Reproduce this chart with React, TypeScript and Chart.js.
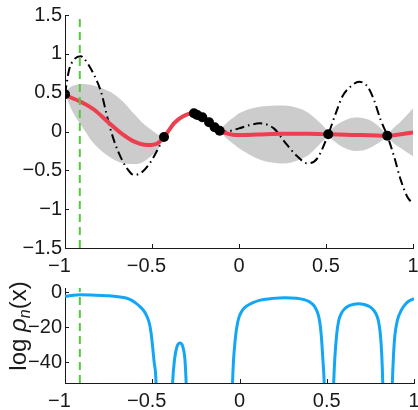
import React, { useEffect, useRef } from 'react';
import { Chart, registerables } from 'chart.js';

Chart.register(...registerables);

// ---------- data ----------
const xTicks = [-1, -0.5, 0, 0.5, 1];
const topYTicks = [-1.5, -1, -0.5, 0, 0.5, 1, 1.5];
const bottomYTicks = [-40, -20, 0];
const cursorX = -0.915;

const bandX = [
  -1, -0.99, -0.966, -0.94, -0.908, -0.88, -0.851, -0.81, -0.774, -0.735, -0.697, -0.66, -0.621, -0.59, -0.563, -0.535, -0.506, -0.48, -0.458, -0.445, -0.431,
  -0.42, -0.4, -0.374, -0.35, -0.326, -0.3, -0.259, -0.24, -0.211, -0.172, -0.14, -0.111,
  -0.1, -0.08, -0.05, -0.02, 0, 0.04, 0.077, 0.13, 0.191, 0.25, 0.306, 0.36, 0.402, 0.44, 0.479, 0.5, 0.513,
  0.53, 0.55, 0.575, 0.62, 0.667, 0.71, 0.747, 0.79, 0.824, 0.84, 0.852,
  0.87, 0.9, 0.92, 0.96, 1,
];
const bandUpper = [
  0.48, 0.52, 0.577, 0.6, 0.61, 0.607, 0.598, 0.575, 0.545, 0.505, 0.445, 0.37, 0.27, 0.195, 0.13, 0.075, 0.025, -0.02, -0.048, -0.062, -0.07,
  -0.035, 0.045, 0.13, 0.175, 0.21, 0.235, 0.238, 0.212, 0.183, 0.118, 0.054, 0.01,
  0.04, 0.09, 0.15, 0.2, 0.234, 0.275, 0.3, 0.322, 0.332, 0.335, 0.322, 0.285, 0.234, 0.165, 0.084, 0.025, -0.036,
  0.02, 0.065, 0.105, 0.155, 0.18, 0.175, 0.15, 0.09, 0.02, -0.02, -0.054,
  0.0, 0.07, 0.105, 0.2, 0.3,
];
const bandLower = [
  0.48, 0.43, 0.3, 0.19, 0.084, -0.01, -0.11, -0.21, -0.28, -0.34, -0.385, -0.41, -0.42, -0.42, -0.405, -0.37, -0.32, -0.26, -0.2, -0.14, -0.07,
  -0.045, 0.005, 0.08, 0.135, 0.17, 0.215, 0.238, 0.212, 0.183, 0.118, 0.054, 0.01,
  -0.02, -0.07, -0.13, -0.18, -0.216, -0.27, -0.32, -0.37, -0.4, -0.412, -0.395, -0.35, -0.3, -0.22, -0.13, -0.08, -0.036,
  -0.09, -0.13, -0.174, -0.225, -0.25, -0.245, -0.216, -0.165, -0.11, -0.08, -0.054,
  -0.11, -0.17, -0.2, -0.26, -0.32,
];

const meanX = [-1, -0.908, -0.832, -0.755, -0.678, -0.601, -0.525, -0.467, -0.431, -0.4, -0.374, -0.326, -0.259, -0.24, -0.211, -0.172, -0.14, -0.111, -0.06, -0.02, 0.1, 0.25, 0.4, 0.513, 0.65, 0.75, 0.852, 0.93, 1];
const meanY = [0.47, 0.38, 0.28, 0.126, -0.02, -0.13, -0.174, -0.15, -0.07, 0.025, 0.105, 0.19, 0.238, 0.212, 0.183, 0.118, 0.054, 0.01, -0.03, -0.045, -0.04, -0.03, -0.03, -0.036, -0.045, -0.048, -0.054, -0.035, -0.012];

const trueX = [-1, -0.977, -0.95, -0.91, -0.891, -0.833, -0.79, -0.764, -0.74, -0.71, -0.68, -0.645, -0.603, -0.556, -0.507, -0.46, -0.431, -0.374, -0.326, -0.259, -0.211, -0.14, -0.111, -0.077, 0, 0.057, 0.12, 0.2, 0.268, 0.335, 0.393, 0.45, 0.513, 0.556, 0.594, 0.642, 0.69, 0.738, 0.776, 0.814, 0.852, 0.891, 0.929, 0.967, 1];
const trueY = [0.48, 0.79, 0.92, 0.97, 0.94, 0.73, 0.49, 0.25, 0.04, -0.17, -0.33, -0.47, -0.56, -0.52, -0.39, -0.2, -0.07, 0.11, 0.19, 0.234, 0.183, 0.054, 0.01, 0.0, 0.04, 0.08, 0.105, 0.04, -0.15, -0.32, -0.41, -0.345, -0.036, 0.234, 0.45, 0.58, 0.64, 0.58, 0.405, 0.15, -0.054, -0.32, -0.62, -0.84, -0.93];

const obsX = [-1, -0.431, -0.259, -0.24, -0.211, -0.172, -0.14, -0.111, 0.513, 0.852];
const obsY = [0.48, -0.07, 0.234, 0.212, 0.183, 0.118, 0.054, 0.01, -0.036, -0.054];

const rhoX = [
  -1, -0.95, -0.915, -0.85, -0.75, -0.65, -0.62, -0.594, -0.57, -0.546, -0.53, -0.517, -0.507, -0.498, -0.489, -0.479, -0.474, -0.43,
  -0.39, -0.383, -0.372, -0.358, -0.341, -0.325, -0.313, -0.306, -0.3, -0.2,
  -0.045, -0.04, -0.035, -0.03, -0.02, -0.01, 0, 0.019, 0.04, 0.077, 0.12, 0.191, 0.26, 0.326, 0.37, 0.402, 0.425, 0.44, 0.45, 0.46, 0.469, 0.477, 0.485, 0.49, 0.51,
  0.535, 0.54, 0.546, 0.556, 0.568, 0.585, 0.605, 0.632, 0.68, 0.72, 0.747, 0.77, 0.785, 0.795, 0.805, 0.812, 0.818, 0.822, 0.826, 0.85,
  0.872, 0.876, 0.882, 0.89, 0.905, 0.929, 0.95, 0.967, 0.985, 1,
];
const rhoY = [
  -2.4, -1.8, -1.6, -1.7, -2.1, -3.4, -4.6, -6.3, -8.3, -11, -14, -17.6, -23, -31, -40, -50, -70, null,
  -70, -51, -38, -31, -29, -31, -38, -51, -70, null,
  -70, -52, -40, -33, -23, -17, -13.5, -10, -8, -6, -4.6, -3.6, -3.2, -3.5, -4.3, -5.6, -7.5, -10, -12.5, -17, -25, -37, -51, -70, null,
  -70, -51, -38, -25, -16.5, -11.9, -9.3, -7.6, -6.6, -7.2, -8.4, -10.5, -13, -16, -22, -30, -42, -55, -70, null,
  -70, -52, -37, -25, -16, -10, -7, -5.4, -4.4, -3.8,
];

// ---------- helpers ----------
const FONT = "'Liberation Sans Narrow', 'Liberation Sans', Arial, sans-serif";
const INK = '#1a1a1a';
const fmt = (v: number, pad: boolean) =>
  v < 0 ? '\u2212' + String(Math.abs(v)) + (pad ? '  ' : '') : String(v);

const inwardTicks = {
  id: 'inwardTicks',
  afterDatasetsDraw(chart: any) {
    const { ctx, chartArea: a, scales } = chart;
    ctx.save();
    ctx.strokeStyle = INK;
    ctx.lineWidth = 1;
    ctx.setLineDash([]);
    ctx.beginPath();
    scales.x.ticks.forEach((t: any) => {
      const p = Math.round(scales.x.getPixelForValue(t.value)) + 0.5;
      ctx.moveTo(p, a.bottom);
      ctx.lineTo(p, a.bottom - 4);
    });
    scales.y.ticks.forEach((t: any) => {
      const p = Math.round(scales.y.getPixelForValue(t.value)) + 0.5;
      ctx.moveTo(a.left, p);
      ctx.lineTo(a.left + 4, p);
    });
    ctx.stroke();
    ctx.restore();
  },
};

const yLabel = {
  id: 'yLabel',
  afterDraw(chart: any) {
    const { ctx } = chart;
    const size = 24;
    const parts = [
      { t: 'log ', f: `${size}px 'Liberation Sans', Arial`, dy: 0 },
      { t: '\u03c1', f: `italic ${size}px 'Liberation Sans', Arial`, dy: 0 },
      { t: 'n', f: `italic ${Math.round(size * 0.68)}px 'Liberation Sans', Arial`, dy: 4 },
      { t: '(x)', f: `${size}px 'Liberation Sans', Arial`, dy: 0 },
    ];
    ctx.save();
    let total = 0;
    const widths = parts.map((p) => {
      ctx.font = p.f;
      const w = ctx.measureText(p.t).width;
      total += w;
      return w;
    });
    ctx.translate(26, 46);
    ctx.rotate(-Math.PI / 2);
    ctx.fillStyle = INK;
    ctx.textBaseline = 'alphabetic';
    ctx.textAlign = 'left';
    let x = -total / 2;
    parts.forEach((p, i) => {
      ctx.font = p.f;
      ctx.fillText(p.t, x, p.dy);
      x += widths[i];
    });
    ctx.restore();
  },
};

const tickFont = { family: FONT, size: 20 };

function xScale(height: number) {
  return {
    type: 'linear',
    min: -1,
    max: 1,
    afterBuildTicks: (s: any) => {
      s.ticks = xTicks.map((v) => ({ value: v }));
    },
    ticks: { callback: (v: any) => fmt(Number(v), true), font: tickFont, color: INK, padding: 6, maxRotation: 0, autoSkip: false },
    grid: { display: false, drawTicks: false },
    border: { display: true, color: INK, width: 1 },
    afterFit: (s: any) => {
      s.height = height;
      s.paddingLeft = 0;
      s.paddingRight = 0;
    },
  };
}

function yScale(min: number, max: number, ticks: number[]) {
  return {
    type: 'linear',
    min,
    max,
    afterBuildTicks: (s: any) => {
      s.ticks = ticks.map((v) => ({ value: v }));
    },
    ticks: { callback: (v: any) => fmt(Number(v), false), font: tickFont, color: INK, padding: 3, autoSkip: false },
    grid: { display: false, drawTicks: false },
    border: { display: true, color: INK, width: 1 },
    afterFit: (s: any) => {
      s.width = 65;
      s.paddingTop = 0;
      s.paddingBottom = 0;
    },
  };
}

const pts = (xs: number[], ys: (number | null)[]) => xs.map((x, i) => ({ x, y: ys[i] }));

export default function App() {
  const topRef = useRef<HTMLCanvasElement>(null);
  const botRef = useRef<HTMLCanvasElement>(null);

  useEffect(() => {
    const top = new Chart(topRef.current as HTMLCanvasElement, {
      type: 'line',
      data: {
        datasets: [
          { label: 'cursor', data: pts([cursorX, cursorX], [-1.5, 1.5]), borderColor: '#55c83c', borderWidth: 2, borderDash: [8, 5], pointRadius: 0, order: 0 },
          { label: 'obs', data: pts(obsX, obsY), showLine: false, pointRadius: 5, pointBackgroundColor: '#000', pointBorderColor: '#000', pointBorderWidth: 0, order: 1 },
          { label: 'mean', data: pts(meanX, meanY), borderColor: '#ec3f50', borderWidth: 4, pointRadius: 0, cubicInterpolationMode: 'monotone', order: 2 },
          { label: 'true', data: pts(trueX, trueY), borderColor: '#000', borderWidth: 2, borderDash: [9, 4, 1.5, 4], pointRadius: 0, cubicInterpolationMode: 'monotone', order: 3 },
          { label: 'upper', data: pts(bandX, bandUpper), borderColor: 'rgba(0,0,0,0)', borderWidth: 0, pointRadius: 0, fill: false, cubicInterpolationMode: 'monotone', order: 5 },
          { label: 'lower', data: pts(bandX, bandLower), borderColor: 'rgba(0,0,0,0)', borderWidth: 0, pointRadius: 0, fill: 4, backgroundColor: '#cccccc', cubicInterpolationMode: 'monotone', order: 4 },
        ],
      } as any,
      options: {
        animation: false,
        responsive: false,
        events: [],
        layout: { padding: { left: 0, right: 4, top: 15, bottom: 0 } },
        plugins: { legend: { display: false }, tooltip: { enabled: false } },
        scales: { x: xScale(32), y: yScale(-1.5, 1.5, topYTicks) } as any,
      },
      plugins: [inwardTicks],
    });

    const bot = new Chart(botRef.current as HTMLCanvasElement, {
      type: 'line',
      data: {
        datasets: [
          { label: 'cursor', data: pts([cursorX, cursorX], [-51.7, 2.3]), borderColor: '#55c83c', borderWidth: 2, borderDash: [8, 5], pointRadius: 0, order: 0 },
          { label: 'rho', data: pts(rhoX, rhoY), borderColor: '#12a6f5', borderWidth: 3, pointRadius: 0, cubicInterpolationMode: 'monotone', spanGaps: false, clip: 0, order: 1 },
        ],
      } as any,
      options: {
        animation: false,
        responsive: false,
        events: [],
        layout: { padding: { left: 0, right: 4, top: 8, bottom: 0 } },
        plugins: { legend: { display: false }, tooltip: { enabled: false } },
        scales: { x: xScale(27), y: yScale(-51.7, 2.3, bottomYTicks) } as any,
      },
      plugins: [inwardTicks, yLabel],
    });

    return () => {
      top.destroy();
      bot.destroy();
    };
  }, []);

  return (
    <div style={{ position: 'fixed', left: 0, top: 0, width: 418, height: 410, background: '#fff' }}>
      <canvas ref={topRef} width={418} height={280} style={{ position: 'absolute', left: 0, top: 0, display: 'block' }} />
      <canvas ref={botRef} width={418} height={130} style={{ position: 'absolute', left: 0, top: 280, display: 'block' }} />
    </div>
  );
}
